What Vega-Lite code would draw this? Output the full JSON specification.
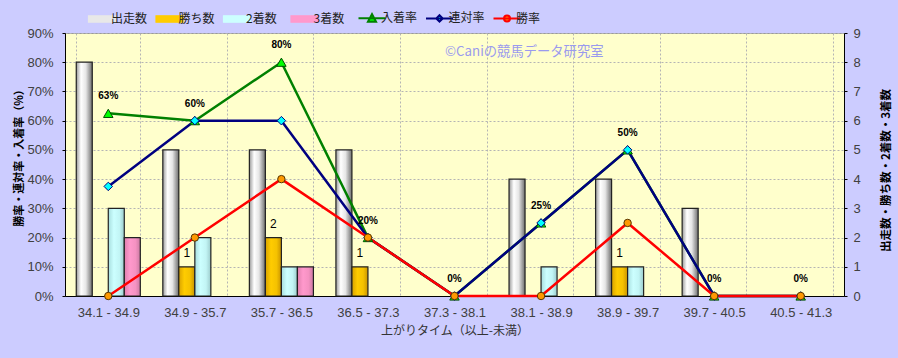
{
  "$schema": "https://vega.github.io/schema/vega-lite/v6.json",
  "width": 779,
  "height": 263,
  "autosize": {"type": "none"},
  "padding": {"left": 65, "top": 33, "right": 54, "bottom": 62},
  "background": "#CCCCFF",
  "title": {
    "text": "©Caniの競馬データ研究室",
    "orient": "top",
    "anchor": "start",
    "frame": "group",
    "dx": 380,
    "dy": 57,
    "offset": 0,
    "baseline": "alphabetic",
    "font": "Noto Sans CJK JP",
    "fontSize": 13.3,
    "fontWeight": "normal",
    "color": "#9A9AEE"
  },
  "config": {
    "view": {"fill": "#FFFFCC", "stroke": "#999999"},
    "axis": {
      "labelFont": "Liberation Sans",
      "labelFontSize": 13,
      "labelColor": "#404040",
      "titleFont": "Noto Sans CJK JP",
      "titleFontSize": 11.5,
      "titleColor": "#000000",
      "domainColor": "#000000",
      "tickColor": "#000000",
      "gridColor": "#B4B4B4",
      "gridDash": [2, 2]
    }
  },
  "datasets": {
    "bars": [
      {"cat": "34.1 - 34.9", "series": "出走数", "n": 8},
      {"cat": "34.1 - 34.9", "series": "勝ち数", "n": 0},
      {"cat": "34.1 - 34.9", "series": "2着数", "n": 3},
      {"cat": "34.1 - 34.9", "series": "3着数", "n": 2},
      {"cat": "34.9 - 35.7", "series": "出走数", "n": 5},
      {"cat": "34.9 - 35.7", "series": "勝ち数", "n": 1},
      {"cat": "34.9 - 35.7", "series": "2着数", "n": 2},
      {"cat": "34.9 - 35.7", "series": "3着数", "n": 0},
      {"cat": "35.7 - 36.5", "series": "出走数", "n": 5},
      {"cat": "35.7 - 36.5", "series": "勝ち数", "n": 2},
      {"cat": "35.7 - 36.5", "series": "2着数", "n": 1},
      {"cat": "35.7 - 36.5", "series": "3着数", "n": 1},
      {"cat": "36.5 - 37.3", "series": "出走数", "n": 5},
      {"cat": "36.5 - 37.3", "series": "勝ち数", "n": 1},
      {"cat": "36.5 - 37.3", "series": "2着数", "n": 0},
      {"cat": "36.5 - 37.3", "series": "3着数", "n": 0},
      {"cat": "37.3 - 38.1", "series": "出走数", "n": 0},
      {"cat": "37.3 - 38.1", "series": "勝ち数", "n": 0},
      {"cat": "37.3 - 38.1", "series": "2着数", "n": 0},
      {"cat": "37.3 - 38.1", "series": "3着数", "n": 0},
      {"cat": "38.1 - 38.9", "series": "出走数", "n": 4},
      {"cat": "38.1 - 38.9", "series": "勝ち数", "n": 0},
      {"cat": "38.1 - 38.9", "series": "2着数", "n": 1},
      {"cat": "38.1 - 38.9", "series": "3着数", "n": 0},
      {"cat": "38.9 - 39.7", "series": "出走数", "n": 4},
      {"cat": "38.9 - 39.7", "series": "勝ち数", "n": 1},
      {"cat": "38.9 - 39.7", "series": "2着数", "n": 1},
      {"cat": "38.9 - 39.7", "series": "3着数", "n": 0},
      {"cat": "39.7 - 40.5", "series": "出走数", "n": 3},
      {"cat": "39.7 - 40.5", "series": "勝ち数", "n": 0},
      {"cat": "39.7 - 40.5", "series": "2着数", "n": 0},
      {"cat": "39.7 - 40.5", "series": "3着数", "n": 0},
      {"cat": "40.5 - 41.3", "series": "出走数", "n": 0},
      {"cat": "40.5 - 41.3", "series": "勝ち数", "n": 0},
      {"cat": "40.5 - 41.3", "series": "2着数", "n": 0},
      {"cat": "40.5 - 41.3", "series": "3着数", "n": 0}
    ],
    "rates": [
      {"cat": "34.1 - 34.9", "series": "入着率", "v": 0.625},
      {"cat": "34.9 - 35.7", "series": "入着率", "v": 0.6},
      {"cat": "35.7 - 36.5", "series": "入着率", "v": 0.8},
      {"cat": "36.5 - 37.3", "series": "入着率", "v": 0.2},
      {"cat": "37.3 - 38.1", "series": "入着率", "v": 0},
      {"cat": "38.1 - 38.9", "series": "入着率", "v": 0.25},
      {"cat": "38.9 - 39.7", "series": "入着率", "v": 0.5},
      {"cat": "39.7 - 40.5", "series": "入着率", "v": 0},
      {"cat": "40.5 - 41.3", "series": "入着率", "v": 0},
      {"cat": "34.1 - 34.9", "series": "連対率", "v": 0.375},
      {"cat": "34.9 - 35.7", "series": "連対率", "v": 0.6},
      {"cat": "35.7 - 36.5", "series": "連対率", "v": 0.6},
      {"cat": "36.5 - 37.3", "series": "連対率", "v": 0.2},
      {"cat": "37.3 - 38.1", "series": "連対率", "v": 0},
      {"cat": "38.1 - 38.9", "series": "連対率", "v": 0.25},
      {"cat": "38.9 - 39.7", "series": "連対率", "v": 0.5},
      {"cat": "39.7 - 40.5", "series": "連対率", "v": 0},
      {"cat": "40.5 - 41.3", "series": "連対率", "v": 0},
      {"cat": "34.1 - 34.9", "series": "勝率", "v": 0},
      {"cat": "34.9 - 35.7", "series": "勝率", "v": 0.2},
      {"cat": "35.7 - 36.5", "series": "勝率", "v": 0.4},
      {"cat": "36.5 - 37.3", "series": "勝率", "v": 0.2},
      {"cat": "37.3 - 38.1", "series": "勝率", "v": 0},
      {"cat": "38.1 - 38.9", "series": "勝率", "v": 0},
      {"cat": "38.9 - 39.7", "series": "勝率", "v": 0.25},
      {"cat": "39.7 - 40.5", "series": "勝率", "v": 0},
      {"cat": "40.5 - 41.3", "series": "勝率", "v": 0}
    ]
  },
  "layer": [
    {
      "data": {"name": "bars"},
      "encoding": {
        "x": {
          "field": "cat", "type": "nominal", "sort": null,
          "scale": {"domain": ["34.1 - 34.9", "34.9 - 35.7", "35.7 - 36.5", "36.5 - 37.3", "37.3 - 38.1", "38.1 - 38.9", "38.9 - 39.7", "39.7 - 40.5", "40.5 - 41.3"], "paddingInner": 0.26, "paddingOuter": 0.13},
          "axis": {"title": "上がりタイム（以上-未満）", "labelAngle": 0, "tickBand": "extent", "grid": true, "tickSize": 0, "labelPadding": 10, "titlePadding": 6, "titleFontWeight": "normal", "titleColor": "#333333", "titleFontSize": 12}
        },
        "xOffset": {"field": "series", "type": "nominal", "sort": null, "scale": {"domain": ["出走数", "勝ち数", "2着数", "3着数"], "paddingInner": 0, "paddingOuter": 0}},
        "y": {
          "field": "n", "type": "quantitative",
          "scale": {"domain": [0, 9], "nice": false},
          "axis": {"orient": "right", "values": [0, 1, 2, 3, 4, 5, 6, 7, 8, 9], "grid": false, "tickSize": 3, "labelPadding": 6, "title": "出走数・勝ち数・2着数・3着数", "titleAngle": 270, "titlePadding": 31, "titleY": 137, "titleFontWeight": "bold"}
        }
      },
      "layer": [
        {
          "transform": [{"filter": "datum.n > 0"}],
          "mark": {"type": "bar", "stroke": "#222222", "strokeWidth": 1.2},
          "encoding": {
            "fill": {
              "condition": [
                {"test": "datum.series === '出走数'", "value": {"gradient": "linear", "x1": 0, "y1": 0, "x2": 1, "y2": 0, "stops": [{"offset": 0, "color": "#9a9a9a"}, {"offset": 0.3, "color": "#ffffff"}, {"offset": 0.6, "color": "#e6e6e6"}, {"offset": 1, "color": "#6e6e6e"}]}},
                {"test": "datum.series === '勝ち数'", "value": {"gradient": "linear", "x1": 0, "y1": 0, "x2": 1, "y2": 0, "stops": [{"offset": 0, "color": "#d9a300"}, {"offset": 0.35, "color": "#ffcc00"}, {"offset": 0.7, "color": "#f5c200"}, {"offset": 1, "color": "#c99400"}]}},
                {"test": "datum.series === '2着数'", "value": {"gradient": "linear", "x1": 0, "y1": 0, "x2": 1, "y2": 0, "stops": [{"offset": 0, "color": "#a8dede"}, {"offset": 0.35, "color": "#ccffff"}, {"offset": 0.7, "color": "#c2f5f5"}, {"offset": 1, "color": "#9ccccc"}]}}
              ],
              "value": {"gradient": "linear", "x1": 0, "y1": 0, "x2": 1, "y2": 0, "stops": [{"offset": 0, "color": "#e07fae"}, {"offset": 0.35, "color": "#ff99cc"}, {"offset": 0.7, "color": "#f592c2"}, {"offset": 1, "color": "#cc7aa3"}]}
            }
          }
        },
        {
          "transform": [{"filter": "datum.series === '勝ち数' && datum.n > 0"}],
          "mark": {"type": "text", "dy": -14, "font": "Liberation Sans", "fontSize": 12, "color": "#000000"},
          "encoding": {"text": {"field": "n", "type": "quantitative"}}
        }
      ]
    },
    {
      "data": {"name": "rates"},
      "encoding": {
        "x": {
          "field": "cat", "type": "nominal", "sort": null,
          "scale": {"domain": ["34.1 - 34.9", "34.9 - 35.7", "35.7 - 36.5", "36.5 - 37.3", "37.3 - 38.1", "38.1 - 38.9", "38.9 - 39.7", "39.7 - 40.5", "40.5 - 41.3"], "paddingInner": 0.26, "paddingOuter": 0.13},
          "axis": {"title": "上がりタイム（以上-未満）", "labelAngle": 0, "tickBand": "extent", "grid": true, "tickSize": 0, "labelPadding": 10, "titlePadding": 6, "titleFontWeight": "normal", "titleColor": "#333333", "titleFontSize": 12}
        },
        "y": {
          "field": "v", "type": "quantitative",
          "scale": {"domain": [0, 0.9], "nice": false},
          "axis": {"orient": "left", "format": ".0%", "values": [0, 0.1, 0.2, 0.3, 0.4, 0.5, 0.6, 0.7, 0.8, 0.9], "grid": true, "tickSize": 3, "labelPadding": 9, "title": "勝率・連対率・入着率（%）", "titlePadding": 2, "titleY": 122, "titleFontSize": 11, "titleFontWeight": "bold"}
        }
      },
      "layer": [
        {
          "mark": {"type": "line", "strokeWidth": 2.5},
          "encoding": {
            "color": {
              "field": "series", "type": "nominal",
              "scale": {"domain": ["出走数", "勝ち数", "2着数", "3着数", "入着率", "連対率", "勝率"], "range": ["#e8e8e8", "#FFCC00", "#CCFFFF", "#FF99CC", "#008000", "#000080", "#FF0000"]},
              "legend": {
                "orient": "none", "legendX": 31, "legendY": -21, "direction": "horizontal", "title": null,
                "gridAlign": "all",
                "padding": 0, "symbolSize": 729, "columnPadding": 3.5, "labelOffset": 3,
                "labelFont": "Noto Sans CJK JP", "labelFontSize": 12, "labelColor": "#222222",
                "encode": {
                  "symbols": {
                    "update": {
                      "shape": {"signal": "datum.value === '入着率' ? 'M-1,0H1M-0.3,0.26L0,-0.3L0.3,0.26Z' : datum.value === '連対率' ? 'M-1,0H1M0,-0.24L0.24,0L0,0.24L-0.24,0Z' : datum.value === '勝率' ? 'M-1,0H1M0.22,0A0.22,0.22,0,1,1,-0.22,0A0.22,0.22,0,1,1,0.22,0Z' : 'M-1,-0.24H1V0.24H-1Z'"},
                      "fill": {"signal": "datum.value === '出走数' ? '#e8e8e8' : datum.value === '勝ち数' ? '#FFCC00' : datum.value === '2着数' ? '#CCFFFF' : datum.value === '3着数' ? '#FF99CC' : datum.value === '入着率' ? '#00FF00' : datum.value === '連対率' ? '#00FFFF' : '#FF9900'"},
                      "stroke": {"signal": "datum.value === '入着率' ? '#008000' : datum.value === '連対率' ? '#000080' : datum.value === '勝率' ? '#FF0000' : '#333333'"},
                      "strokeWidth": {"signal": "indexof(['入着率', '連対率', '勝率'], datum.value) >= 0 ? 2 : 1.2"},
                      "opacity": {"value": 1},
                      "fillOpacity": {"value": 1}
                    }
                  }
                }
              }
            }
          }
        },
        {
          "mark": {"type": "point", "filled": true, "strokeWidth": 1, "opacity": 1},
          "encoding": {
            "shape": {"field": "series", "type": "nominal", "scale": {"domain": ["入着率", "連対率", "勝率"], "range": ["triangle-up", "diamond", "circle"]}, "legend": null},
            "fill": {"field": "series", "type": "nominal", "scale": {"domain": ["入着率", "連対率", "勝率"], "range": ["#00FF00", "#00FFFF", "#FF9900"]}, "legend": null},
            "stroke": {"field": "series", "type": "nominal", "scale": {"domain": ["入着率", "連対率", "勝率"], "range": ["#005000", "#000080", "#553300"]}, "legend": null},
            "size": {"field": "series", "type": "nominal", "scale": {"domain": ["入着率", "連対率", "勝率"], "range": [90, 55, 60]}, "legend": null}
          }
        },
        {
          "transform": [{"filter": "datum.series === '入着率'"}],
          "mark": {"type": "text", "dy": -17, "font": "Liberation Sans", "fontSize": 10, "fontWeight": "bold", "color": "#000000"},
          "encoding": {"text": {"field": "v", "type": "quantitative", "format": ".0%"}}
        }
      ]
    }
  ],
  "resolve": {"scale": {"y": "independent"}}
}
